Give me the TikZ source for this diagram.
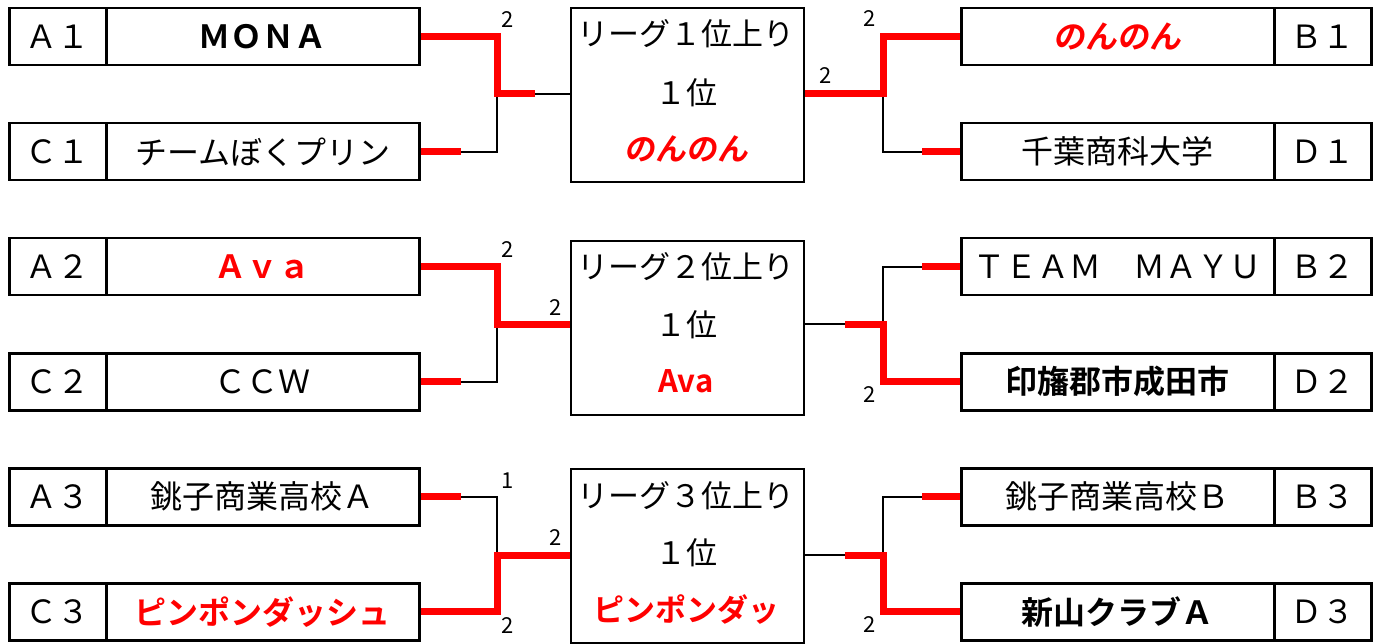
\documentclass[tikz,border=0pt]{standalone}
\usepackage{fontspec}
\setmainfont{Noto Sans CJK JP}[BoldFont={Noto Sans CJK JP Bold}]
\newfontfamily\jpsl{Noto Sans CJK JP Bold}[FakeSlant=0.15]
\begin{document}
\begin{tikzpicture}[x=1pt,y=-1pt,
  box/.style={draw,line width=2.5pt,inner sep=0pt,anchor=north west,minimum height=57pt,font=\fontsize{32}{34}\selectfont},
  lab/.style={box,minimum width=97pt},
  tname/.style={box,minimum width=313pt},
  ctr/.style={draw,line width=2pt,inner sep=0pt,anchor=north west,minimum width=233pt,minimum height=174pt},
  ctxt/.style={font=\fontsize{31}{33}\selectfont,inner sep=0pt},
  win/.style={red,line width=7pt},
  lose/.style={black,line width=1.8pt},
  score/.style={font=\fontsize{22}{24}\selectfont,inner sep=0pt}]
\useasboundingbox (0,0) rectangle (1381,644);
% ---------- left boxes ----------
\node[lab] (A1l) at (8,7) {Ａ１};
\node[tname] (A1n) at (105,7) {\bfseries ＭＯＮＡ};
\node[lab] (C1l) at (8,122) {Ｃ１};
\node[tname] (C1n) at (105,122) {チームぼくプリン};
\node[lab] (A2l) at (8,237) {Ａ２};
\node[tname] (A2n) at (105,237) {\color{red}\bfseries Ａｖａ};
\node[lab] (C2l) at (8,352) {Ｃ２};
\node[tname] (C2n) at (105,352) {ＣＣＷ};
\node[lab] (A3l) at (8,467) {Ａ３};
\node[tname] (A3n) at (105,467) {銚子商業高校Ａ};
\node[lab] (C3l) at (8,582) {Ｃ３};
\node[tname] (C3n) at (105,582) {\color{red}\bfseries ピンポンダッシュ};
% ---------- right boxes ----------
\node[tname] (B1n) at (960,7) {\color{red}\jpsl のんのん};
\node[lab] (B1l) at (1273,7) {Ｂ１};
\node[tname] (D1n) at (960,122) {千葉商科大学};
\node[lab] (D1l) at (1273,122) {Ｄ１};
\node[tname] (B2n) at (960,237) {ＴＥＡＭ　ＭＡＹＵ};
\node[lab] (B2l) at (1273,237) {Ｂ２};
\node[tname] (D2n) at (960,352) {\bfseries 印旛郡市成田市};
\node[lab] (D2l) at (1273,352) {Ｄ２};
\node[tname] (B3n) at (960,467) {銚子商業高校Ｂ};
\node[lab] (B3l) at (1273,467) {Ｂ３};
\node[tname] (D3n) at (960,582) {\bfseries 新山クラブＡ};
\node[lab] (D3l) at (1273,582) {Ｄ３};
% ---------- centre boxes ----------
\node[ctr] (Z1) at (570,7) {};
\node[ctxt] (Z1a) at (686,34) {リーグ１位上り};
\node[ctxt] (Z1b) at (686,93) {１位};
\node[ctxt,text=red] (Z1c) at (686,149) {\jpsl のんのん};
\node[ctr] (Z2) at (570,240) {};
\node[ctxt] (Z2a) at (686,267) {リーグ２位上り};
\node[ctxt] (Z2b) at (686,325) {１位};
\node[ctxt,text=red,font=\fontsize{31}{33}\selectfont\bfseries] (Z2c) at (686,381) {Ava};
\node[ctr] (Z3) at (570,468) {};
\node[ctxt] (Z3a) at (686,496) {リーグ３位上り};
\node[ctxt] (Z3b) at (686,553) {１位};
\node[ctxt,text=red,font=\fontsize{31}{33}\selectfont\bfseries] (Z3c) at (686,609) {ピンポンダッ};
% ---------- junctions ----------
\coordinate (L1) at (497,94);  \coordinate (R1) at (883,94);
\coordinate (L2) at (497,324); \coordinate (R2) at (883,324);
\coordinate (L3) at (497,555); \coordinate (R3) at (883,555);
% ---------- group 1 ----------
\draw[lose] (C1n.east) -| (L1);
\draw[lose] (L1) -- (L1 -| Z1.west);
\draw[win] (A1n.east) -| (L1) -- ++(38,0);
\draw[win] (C1n.east) -- ++(40,0);
\draw[lose] (D1n.west) -| (R1);
\draw[win] (Z1.east |- R1) -- (R1) |- (B1n.west);
\draw[win] (D1n.west) -- ++(-38,0);
\node[score] (s1a) at (508,20) {2};
\node[score] (s1b) at (826,76) {2};
\node[score] (s1c) at (870,19) {2};
% ---------- group 2 ----------
\draw[lose] (C2n.east) -| (L2);
\draw[win] (A2n.east) -| (L2) -- (L2 -| Z2.west);
\draw[win] (C2n.east) -- ++(40,0);
\draw[lose] (B2n.west) -| (R2);
\draw[lose] (Z2.east |- R2) -- (R2);
\draw[win] (R2) ++(-38,0) -- (R2) |- (D2n.west);
\draw[win] (B2n.west) -- ++(-38,0);
\node[score] (s2a) at (508,250) {2};
\node[score] (s2b) at (556,308) {2};
\node[score] (s2c) at (870,395) {2};
% ---------- group 3 ----------
\draw[lose] (A3n.east) -| (L3);
\draw[win] (C3n.east) -| (L3) -- (L3 -| Z3.west);
\draw[win] (A3n.east) -- ++(40,0);
\draw[lose] (B3n.west) -| (R3);
\draw[lose] (Z3.east |- R3) -- (R3);
\draw[win] (R3) ++(-38,0) -- (R3) |- (D3n.west);
\draw[win] (B3n.west) -- ++(-38,0);
\node[score] (s3a) at (508,481) {1};
\node[score] (s3b) at (556,538) {2};
\node[score] (s3c) at (508,626) {2};
\node[score] (s3d) at (870,625) {2};
\end{tikzpicture}
\end{document}
